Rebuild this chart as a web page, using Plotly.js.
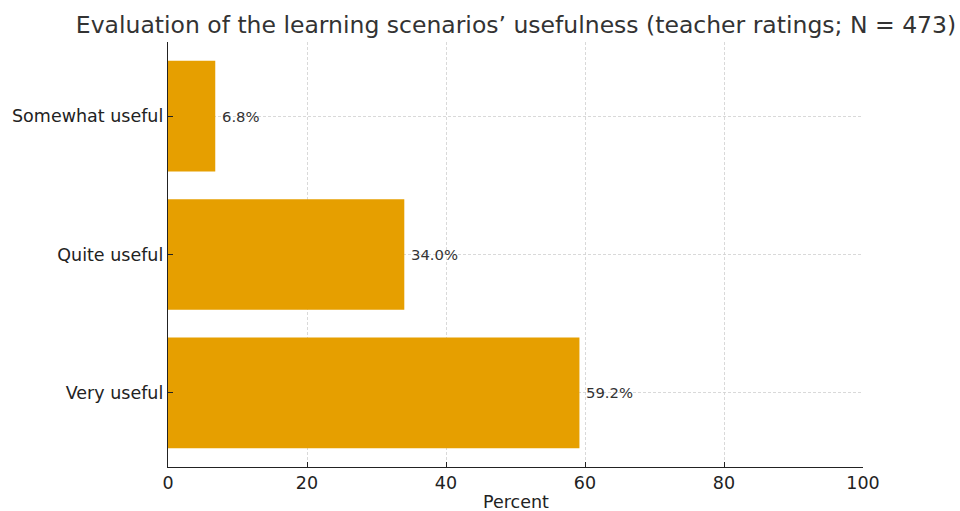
<!DOCTYPE html>
<html>
<head>
<meta charset="utf-8">
<script src="https://cdn.plot.ly/plotly-3.0.1.min.js"></script>
<style>html,body{margin:0;padding:0;background:#fff}#chart{width:960px;height:511px}</style>
</head>
<body>
<div id="chart"></div>
<script>
const categories = ["Very useful", "Quite useful", "Somewhat useful"];
const percents = [59.2, 34.0, 6.8];
const xTicks = [0, 20, 40, 60, 80, 100];
const titleText = "Evaluation of the learning scenarios’ usefulness (teacher ratings; N = 473)";
const xTitle = "Percent";

const font = "DejaVu Sans, sans-serif";

const trace = {
  type: "bar",
  orientation: "h",
  y: categories,
  x: percents,
  width: 0.8,
  marker: {color: "#E69F00", line: {width: 0}},
  hoverinfo: "skip"
};

const annotations = categories.map((c, i) => ({
  x: percents[i], y: c, xref: "x", yref: "y",
  text: percents[i].toFixed(1) + "%",
  showarrow: false, xanchor: "left", yanchor: "middle",
  xshift: 5, font: {family: font, size: 14.8, color: "#333333"}
}));
annotations.push({
  x: 0.5, y: 0, xref: "paper", yref: "paper", text: xTitle,
  showarrow: false, xanchor: "center", yanchor: "middle", yshift: -35, borderpad: 0,
  font: {family: font, size: 17.5, color: "#222"}
});

const layout = {
  width: 960, height: 511,
  margin: {l: 168, r: 97, t: 42, b: 44},
  paper_bgcolor: "#ffffff", plot_bgcolor: "#ffffff",
  showlegend: false,
  title: {text: titleText, x: 0.5375, xanchor: "center", y: 0.952, yanchor: "middle",
          font: {family: font, size: 23.5, color: "#333333"}},
  xaxis: {
    range: [0, 100], tickvals: xTicks, ticktext: xTicks.map(String),
    ticks: "inside", ticklen: 5, tickcolor: "#222", tickwidth: 1,
    showline: true, linecolor: "#222", linewidth: 1.2,
    showgrid: true, gridcolor: "#d0d0d0", griddash: "3px,2px", gridwidth: 0.8,
    zeroline: false,
    tickfont: {family: font, size: 17.5, color: "#222"}
  },
  yaxis: {
    type: "category", categoryorder: "array", categoryarray: categories,
    range: [-0.536, 2.536],
    ticks: "inside", ticklen: 5, tickcolor: "#222", tickwidth: 1,
    showline: true, linecolor: "#222", linewidth: 1.2,
    showgrid: true, gridcolor: "#d0d0d0", griddash: "3px,2px", gridwidth: 0.8,
    zeroline: false,
    tickfont: {family: font, size: 17.5, color: "#222"}
  },
  annotations: annotations
};

Plotly.newPlot("chart", [trace], layout, {displayModeBar: false, staticPlot: true});
</script>
</body>
</html>
